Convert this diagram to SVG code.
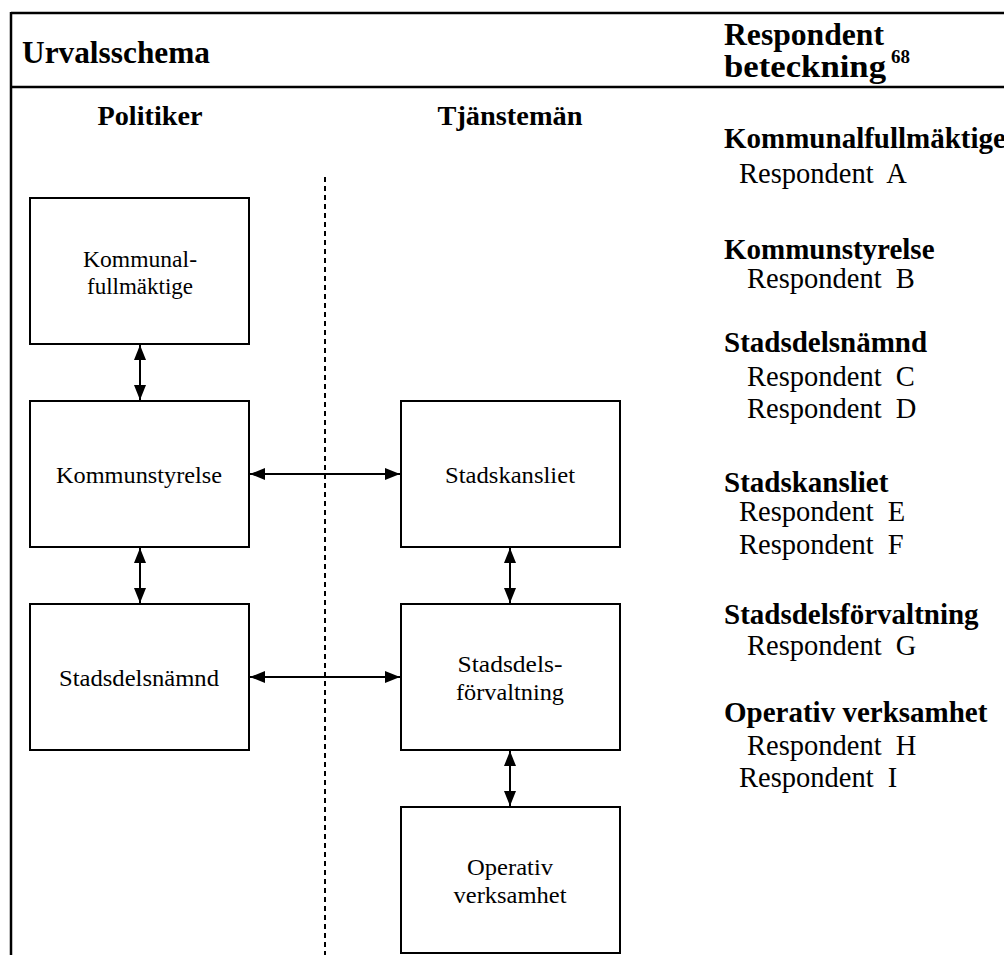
<svg xmlns="http://www.w3.org/2000/svg" width="1004" height="955" viewBox="0 0 1004 955">
  <style>
    .frame { stroke: #000; stroke-width: 2.5; fill: none; }
    .box { fill: #fff; stroke: #000; stroke-width: 2; }
    .link { stroke: #000; stroke-width: 2; fill: none; marker-start: url(#head); marker-end: url(#head); }
    .divider { stroke: #000; stroke-width: 2; stroke-dasharray: 5 4; fill: none; }
    .hd { font-family: "Liberation Serif", "Times New Roman", serif; font-weight: bold; font-size: 31px; fill: #000; }
    .col { font-family: "Liberation Serif", "Times New Roman", serif; font-weight: bold; font-size: 28px; fill: #000; text-anchor: middle; }
    .lbl { font-family: "Liberation Serif", "Times New Roman", serif; font-size: 23px; fill: #000; text-anchor: middle; }
    .grp { font-family: "Liberation Serif", "Times New Roman", serif; font-weight: bold; font-size: 29px; fill: #000; }
    .resp { font-family: "Liberation Serif", "Times New Roman", serif; font-size: 28.5px; fill: #000; white-space: pre; }
  </style>
  <defs>
    <!-- filled arrowhead used on both ends of every connector -->
    <marker id="head" viewBox="0 0 15 12" refX="15" refY="6" markerWidth="15" markerHeight="12" markerUnits="userSpaceOnUse" orient="auto-start-reverse">
      <path d="M0,0 L15,6 L0,12 Z" fill="#000"/>
    </marker>
  </defs>

  <rect width="1004" height="955" fill="#fff"/>

  <!-- table frame -->
  <g id="frame">
    <line class="frame" x1="11" y1="13" x2="1004" y2="13"/>
    <line class="frame" x1="11" y1="87" x2="1004" y2="87"/>
    <line class="frame" x1="11" y1="12" x2="11" y2="955" stroke-width="2"/>
  </g>

  <!-- header row -->
  <g id="header">
    <text class="hd" x="22" y="63" textLength="188" lengthAdjust="spacingAndGlyphs">Urvalsschema</text>
    <text class="hd" x="724" y="45" textLength="160" lengthAdjust="spacingAndGlyphs">Respondent</text>
    <text class="hd" x="724" y="77" textLength="162" lengthAdjust="spacingAndGlyphs">beteckning</text>
    <text class="hd" x="891" y="63" style="font-size:19px">68</text>
  </g>

  <!-- column titles -->
  <g id="columns">
    <text class="col" x="150" y="125" textLength="105" lengthAdjust="spacingAndGlyphs">Politiker</text>
    <text class="col" x="510" y="125" textLength="145" lengthAdjust="spacingAndGlyphs">Tjänstemän</text>
  </g>

  <!-- politicians / officials divider -->
  <line id="divider" class="divider" x1="325" y1="177" x2="325" y2="955"/>

  <!-- connectors -->
  <g id="connectors">
    <line class="link" x1="140" y1="345" x2="140" y2="400"/>
    <line class="link" x1="140" y1="548" x2="140" y2="603"/>
    <line class="link" x1="250" y1="474" x2="400" y2="474"/>
    <line class="link" x1="250" y1="677" x2="400" y2="677"/>
    <line class="link" x1="510" y1="548" x2="510" y2="603"/>
    <line class="link" x1="510" y1="751" x2="510" y2="806"/>
  </g>

  <!-- nodes -->
  <g id="kommunalfullmaktige">
    <rect class="box" x="30" y="198" width="219" height="146"/>
    <text class="lbl" x="140" y="267" textLength="114" lengthAdjust="spacingAndGlyphs">Kommunal-</text>
    <text class="lbl" x="140" y="294" textLength="106" lengthAdjust="spacingAndGlyphs">fullmäktige</text>
  </g>
  <g id="kommunstyrelse">
    <rect class="box" x="30" y="401" width="219" height="146"/>
    <text class="lbl" x="139" y="483" textLength="166" lengthAdjust="spacingAndGlyphs">Kommunstyrelse</text>
  </g>
  <g id="stadsdelsnamnd">
    <rect class="box" x="30" y="604" width="219" height="146"/>
    <text class="lbl" x="139" y="686" textLength="160" lengthAdjust="spacingAndGlyphs">Stadsdelsnämnd</text>
  </g>
  <g id="stadskansliet">
    <rect class="box" x="401" y="401" width="219" height="146"/>
    <text class="lbl" x="510" y="483" textLength="130" lengthAdjust="spacingAndGlyphs">Stadskansliet</text>
  </g>
  <g id="stadsdelsforvaltning">
    <rect class="box" x="401" y="604" width="219" height="146"/>
    <text class="lbl" x="510" y="672" textLength="105" lengthAdjust="spacingAndGlyphs">Stadsdels-</text>
    <text class="lbl" x="510" y="700" textLength="108" lengthAdjust="spacingAndGlyphs">förvaltning</text>
  </g>
  <g id="operativ-verksamhet">
    <rect class="box" x="401" y="807" width="219" height="146"/>
    <text class="lbl" x="510" y="875" textLength="86" lengthAdjust="spacingAndGlyphs">Operativ</text>
    <text class="lbl" x="510" y="903" textLength="113" lengthAdjust="spacingAndGlyphs">verksamhet</text>
  </g>

  <!-- respondent list -->
  <g id="respondents">
    <text class="grp" x="724" y="148">Kommunalfullmäktige</text>
    <text class="resp" x="739" y="183">Respondent  A</text>
    <text class="grp" x="724" y="259">Kommunstyrelse</text>
    <text class="resp" x="747" y="288">Respondent  B</text>
    <text class="grp" x="724" y="352">Stadsdelsnämnd</text>
    <text class="resp" x="747" y="386">Respondent  C</text>
    <text class="resp" x="747" y="418">Respondent  D</text>
    <text class="grp" x="724" y="492">Stadskansliet</text>
    <text class="resp" x="739" y="521">Respondent  E</text>
    <text class="resp" x="739" y="554">Respondent  F</text>
    <text class="grp" x="724" y="624">Stadsdelsförvaltning</text>
    <text class="resp" x="747" y="655">Respondent  G</text>
    <text class="grp" x="724" y="722">Operativ verksamhet</text>
    <text class="resp" x="747" y="755">Respondent  H</text>
    <text class="resp" x="739" y="787">Respondent  I</text>
  </g>
</svg>
